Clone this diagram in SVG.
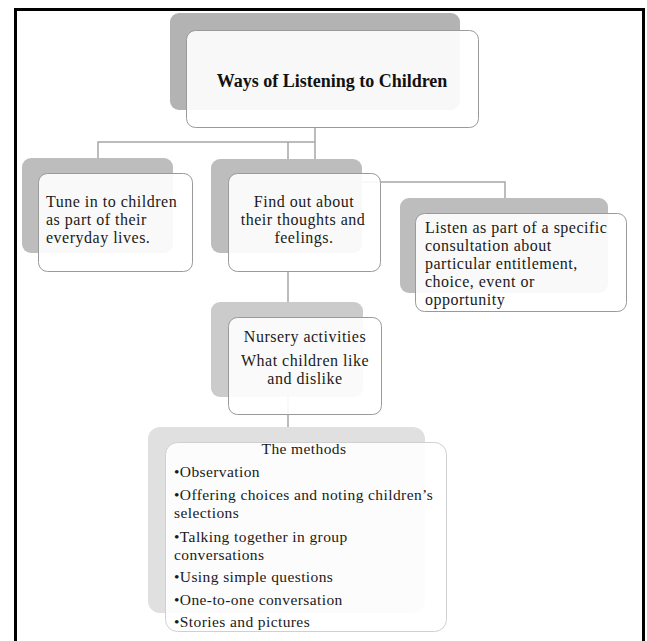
<svg xmlns="http://www.w3.org/2000/svg" width="647" height="641" viewBox="0 0 647 641">
<style>
text{font-family:'Liberation Serif','Times New Roman','DejaVu Serif',serif;font-size:16px;letter-spacing:0.5px;fill:#1a1a1a}
.t{font-weight:bold;font-size:18px;letter-spacing:0;fill:#111}
.m{font-size:15.5px;letter-spacing:0.4px}
.c{text-anchor:middle}
.front{fill:#fff;fill-opacity:0.9;stroke:#9a9a9a;stroke-width:1}
.conn{fill:none;stroke:#a6a6a6;stroke-width:1.5}
</style>
<rect x="0" y="0" width="647" height="641" fill="#fff"/>
<rect x="15.5" y="9.5" width="628" height="645" fill="none" stroke="#000" stroke-width="3"/>
<g id="connectors">
<path class="conn" d="M315,128 V182 H505 V198"/>
<path class="conn" d="M98,158 V142 H315"/>
<path class="conn" d="M288,142 V159"/>
<path class="conn" d="M288,272 V428"/>
</g>
<g id="node-title">
<rect x="170" y="13" width="290" height="97" rx="9" fill="#b3b3b3"/>
<rect class="front" x="186.5" y="30.5" width="292" height="97" rx="9"/>
<text class="t c" x="332" y="87">Ways of Listening to Children</text>
</g>
<g id="node-tune">
<rect x="22" y="158" width="151" height="95" rx="9" fill="#bdbdbd"/>
<rect class="front" x="38.5" y="173.5" width="154" height="98" rx="9"/>
<text x="46" y="207">Tune in to children</text>
<text x="46" y="225">as part of their</text>
<text x="46" y="243">everyday lives.</text>
</g>
<g id="node-find">
<rect x="211" y="159" width="151" height="94" rx="9" fill="#bdbdbd"/>
<rect class="front" x="228.5" y="173.5" width="152" height="98" rx="9"/>
<text class="c" x="304" y="207">Find out about</text>
<text class="c" x="303" y="225">their thoughts and</text>
<text class="c" x="304" y="243">feelings.</text>
</g>
<g id="node-listen">
<rect x="400" y="198" width="208" height="95" rx="9" fill="#bdbdbd"/>
<rect class="front" x="415.5" y="213.5" width="211" height="98" rx="9"/>
<text x="425" y="233">Listen as part of a specific</text>
<text x="425" y="251">consultation about</text>
<text x="425" y="269">particular entitlement,</text>
<text x="425" y="287">choice, event or</text>
<text x="425" y="305">opportunity</text>
</g>
<g id="node-nursery">
<rect x="211" y="302" width="152" height="95" rx="9" fill="#cbcbcb"/>
<rect class="front" x="228.5" y="317.5" width="153" height="97" rx="9"/>
<text class="c" x="305" y="342">Nursery activities</text>
<text class="c" x="305" y="366">What children like</text>
<text class="c" x="305" y="384">and dislike</text>
</g>
<g id="node-methods">
<rect x="148" y="427" width="277" height="186" rx="12" fill="#e0e0e0"/>
<rect class="front" x="165.5" y="442.5" width="281" height="189" rx="12" style="stroke:#d0d0d0"/>
<text class="c m" x="304" y="454">The methods</text>
<text class="m" x="174" y="477">•Observation</text>
<text class="m" x="174" y="500">•Offering choices and noting children’s</text>
<text class="m" x="174" y="517.5">selections</text>
<text class="m" x="174" y="542">•Talking together in group</text>
<text class="m" x="174" y="559.5">conversations</text>
<text class="m" x="174" y="582">•Using simple questions</text>
<text class="m" x="174" y="605">•One-to-one conversation</text>
<text class="m" x="174" y="627">•Stories and pictures</text>
</g>
</svg>
